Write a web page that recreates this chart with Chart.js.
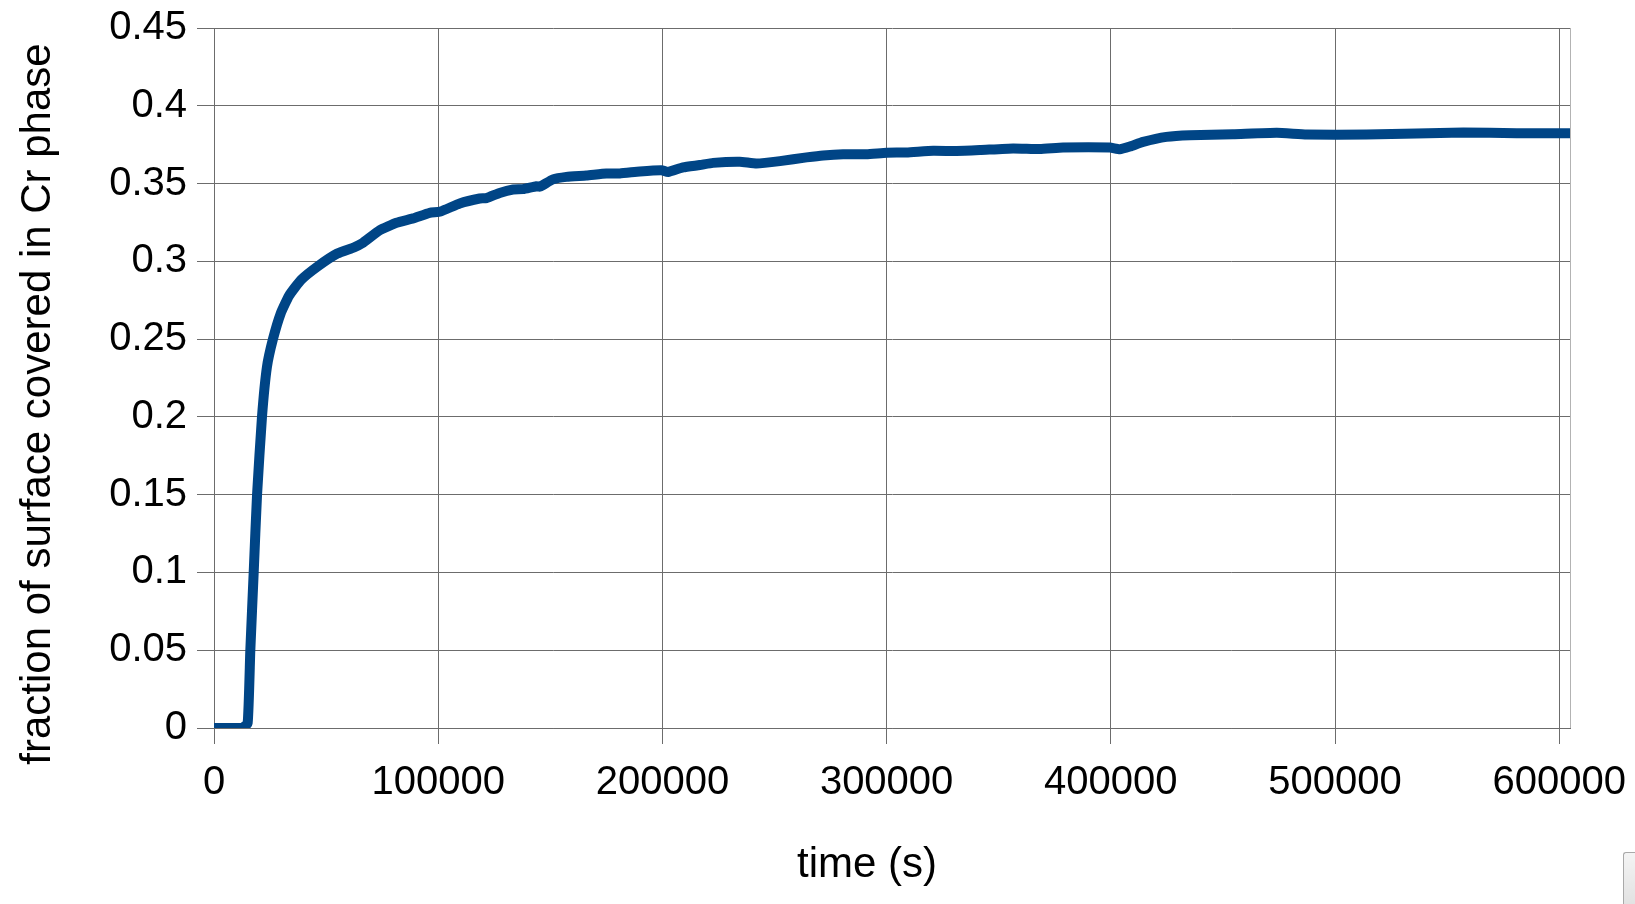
<!DOCTYPE html>
<html lang="en">
<head>
    <meta charset="UTF-8">
    <title>Cr phase surface coverage</title>
    <script src="https://cdn.jsdelivr.net/npm/chart.js"></script>
    <style>
        body { margin: 0; background: #fff; }
        .wrap { position: relative; width: 1635px; height: 904px; }
        /* leftover scrollbar corner from the original screenshot */
        .scroll-corner {
            position: absolute; left: 1623px; top: 852px; width: 12px; height: 52px;
            background: linear-gradient(#f4f4f4, #e2e2e2);
            border: 1px solid #a9a9a9; border-right: none; border-bottom: none;
            border-radius: 3px 0 0 0; box-sizing: border-box;
        }
    </style>
</head>
<body>
<div class="wrap">
    <canvas id="chart" width="1635" height="904"></canvas>
    <div class="scroll-corner"></div>
</div>

<script>
// data
const timeSeconds = [0, 12500, 15000, 16200, 17700, 19200, 21400, 23600, 26300, 29750,
    33500, 38800, 46500, 55000, 62500, 66000, 73900, 81400, 88800, 96200,
    101000, 109600, 118500, 121500, 127400, 133400, 137800, 143800, 145300, 151200,
    157200, 166100, 175000, 181000, 189900, 199600, 202500, 209200, 216700, 222600,
    234500, 242000, 252400, 264300, 271700, 280600, 291000, 300000, 308900, 320800,
    331200, 341600, 356400, 368300, 378700, 399600, 404000, 408500, 414400, 424800,
    435200, 454500, 474000, 487300, 514000, 536400, 557200, 581000, 604800];
const crCoverage = [0, 0, 0.003, 0.05, 0.1, 0.15, 0.2, 0.232, 0.25, 0.2665,
    0.278, 0.288, 0.297, 0.305, 0.309, 0.3115, 0.32, 0.3248, 0.3276, 0.3312,
    0.332, 0.3372, 0.3404, 0.3406, 0.344, 0.3462, 0.3464, 0.3483, 0.348, 0.3527,
    0.3543, 0.3552, 0.3565, 0.3565, 0.3578, 0.3586, 0.3574, 0.3604, 0.3619, 0.3633,
    0.364, 0.3629, 0.3644, 0.3668, 0.3681, 0.3689, 0.3689, 0.3698, 0.37, 0.3711,
    0.3709, 0.3715, 0.3726, 0.3722, 0.3731, 0.3731, 0.3721, 0.3738, 0.3768, 0.38,
    0.3811, 0.3817, 0.3826, 0.3815, 0.3815, 0.3821, 0.3828, 0.3824, 0.3824];

const xTickValues = [0, 100000, 200000, 300000, 400000, 500000, 600000];
const xTickLabels = ['0', '100000', '200000', '300000', '400000', '500000', '600000'];
const yTickValues = [0, 0.05, 0.1, 0.15, 0.2, 0.25, 0.3, 0.35, 0.4, 0.45];
const yTickLabels = ['0', '0.05', '0.1', '0.15', '0.2', '0.25', '0.3', '0.35', '0.4', '0.45'];
const xTitle = 'time (s)';
const yTitle = 'fraction of surface covered in Cr phase';

const gridColor = '#6c6c6c';
const font = '"Liberation Sans", Arial, sans-serif';

// axis titles and the light right frame edge
const frameAndTitles = {
    id: 'frameAndTitles',
    beforeDatasetsDraw(chart) {
        const a = chart.chartArea;
        const ctx = chart.ctx;
        ctx.save();
        ctx.strokeStyle = '#b3b3b3';
        ctx.lineWidth = 1;
        ctx.beginPath();
        ctx.moveTo(Math.round(a.right) + 0.5, a.top);
        ctx.lineTo(Math.round(a.right) + 0.5, a.bottom);
        ctx.stroke();
        ctx.restore();
    },
    afterDraw(chart) {
        const ctx = chart.ctx;
        ctx.save();
        ctx.fillStyle = '#000';
        ctx.font = '42px ' + font;
        ctx.textAlign = 'center';
        ctx.textBaseline = 'alphabetic';
        ctx.fillText(xTitle, 867, 877);
        ctx.translate(50, 404);
        ctx.rotate(-Math.PI / 2);
        ctx.fillText(yTitle, 0, 0);
        ctx.restore();
    }
};

new Chart(document.getElementById('chart'), {
    type: 'line',
    data: {
        datasets: [{
            data: timeSeconds.map((t, i) => ({ x: t, y: crCoverage[i] })),
            borderColor: '#004586',
            borderWidth: 10,
            pointRadius: 0,
            tension: 0.15,
            fill: false
        }]
    },
    options: {
        responsive: false,
        animation: false,
        layout: { padding: { top: 28, right: 65, left: 0, bottom: 0 } },
        plugins: {
            legend: { display: false },
            tooltip: { enabled: false }
        },
        scales: {
            x: {
                type: 'linear',
                bounds: 'data',
                min: 0,
                max: 604800,
                afterBuildTicks(scale) {
                    scale.ticks = xTickValues.map(v => ({ value: v }));
                },
                afterFit(scale) {
                    scale.height = 176;
                    scale.paddingLeft = 0;
                    scale.paddingRight = 0;
                },
                ticks: {
                    maxRotation: 0,
                    autoSkip: false,
                    padding: 15,
                    color: '#000',
                    font: { family: font, size: 40 },
                    callback: (v, i) => xTickLabels[i]
                },
                grid: { color: gridColor, tickLength: 16, lineWidth: 1 },
                border: { color: gridColor }
            },
            y: {
                min: 0,
                max: 0.45,
                afterBuildTicks(scale) {
                    scale.ticks = yTickValues.map(v => ({ value: v }));
                },
                afterFit(scale) {
                    scale.width = 214;
                    scale.paddingTop = 0;
                    scale.paddingBottom = 0;
                },
                ticks: {
                    padding: 10,
                    color: '#000',
                    font: { family: font, size: 40 },
                    callback: (v, i) => yTickLabels[i]
                },
                grid: { color: gridColor, tickLength: 17, lineWidth: 1 },
                border: { color: gridColor }
            }
        }
    },
    plugins: [frameAndTitles]
});
</script>
</body>
</html>
